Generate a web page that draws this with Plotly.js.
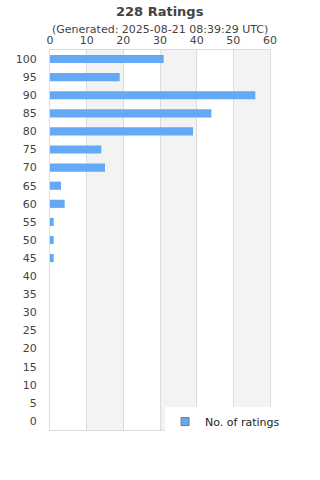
<!DOCTYPE html>
<html>
<head>
<meta charset="utf-8">
<script src="https://cdn.plot.ly/plotly-3.0.1.min.js"></script>
<style>html,body{margin:0;padding:0;background:#fff;}#chart{width:320px;height:480px;}</style>
</head>
<body>
<div id="chart"></div>
<script>
const categories = ["0","5","10","15","20","25","30","35","40","45","50","55","60","65","70","75","80","85","90","95","100"];
const ratingCounts = [0,0,0,0,0,0,0,0,0,1,1,1,4,3,15,14,39,44,56,19,31];
const xTicks = [0,10,20,30,40,50,60];
const seriesName = "No. of ratings";
const titleText = "228 Ratings";
const subtitleText = "(Generated: 2025-08-21 08:39:29 UTC)";
const bands = [[10,20],[30,40],[50,60]];

const font = "DejaVu Sans, Verdana, sans-serif";
const barColor = "#63a9f3";
const shapes = bands.map(b => ({
  type: "rect", xref: "x", yref: "paper", x0: b[0], x1: b[1], y0: 0, y1: 1,
  fillcolor: "#f3f3f3", line: {width: 0}, layer: "below"
}));

Plotly.newPlot("chart", [{
  type: "bar", orientation: "h",
  x: ratingCounts, y: categories,
  name: seriesName,
  marker: {color: barColor},
  width: 0.45,
  showlegend: false,
  hoverinfo: "none"
}, {
  type: "scatter", mode: "markers",
  x: [null], y: [null],
  name: seriesName,
  marker: {symbol: "square", size: 8, color: barColor, line: {color: "#777", width: 1}},
  showlegend: true,
  hoverinfo: "none"
}], {
  width: 320, height: 480,
  margin: {l: 50, r: 50, t: 50, b: 50},
  paper_bgcolor: "#fff", plot_bgcolor: "rgba(0,0,0,0)",
  font: {family: font, size: 11, color: "#444"},
  shapes: shapes,
  xaxis: {
    side: "top", range: [0, 60], tickvals: xTicks, ticktext: xTicks.map(String),
    showgrid: true, gridcolor: "#dcdcdc", gridwidth: 1, zeroline: false,
    showline: true, mirror: true, linecolor: "#dcdcdc",
    ticks: "outside", ticklen: 1, tickcolor: "rgba(0,0,0,0)",
    tickfont: {size: 11, color: "#444"}, fixedrange: true
  },
  yaxis: {
    type: "category", categoryorder: "array", categoryarray: categories,
    range: [-0.5, 20.5],
    showgrid: false, zeroline: false,
    showline: true, mirror: true, linecolor: "#dcdcdc",
    ticks: "outside", ticklen: 10, tickcolor: "rgba(0,0,0,0)",
    tickfont: {size: 11, color: "#444"}, fixedrange: true
  },
  showlegend: true,
  legend: {
    x: 0.523, xanchor: "left", y: -0.016, yanchor: "bottom",
    bgcolor: "#fff", borderwidth: 0,
    font: {family: font, size: 11, color: "#222"}
  },
  annotations: [
    {text: "<b>" + titleText + "</b>", xref: "paper", yref: "paper", x: 0.5, xanchor: "center",
     y: 1, yanchor: "middle", yshift: 39, showarrow: false, font: {family: font, size: 13, color: "#444"}},
    {text: subtitleText, xref: "paper", yref: "paper", x: 0.5, xanchor: "center",
     y: 1, yanchor: "middle", yshift: 21, showarrow: false, font: {family: font, size: 11, color: "#444"}}
  ]
}, {staticPlot: true});
</script>
</body>
</html>
